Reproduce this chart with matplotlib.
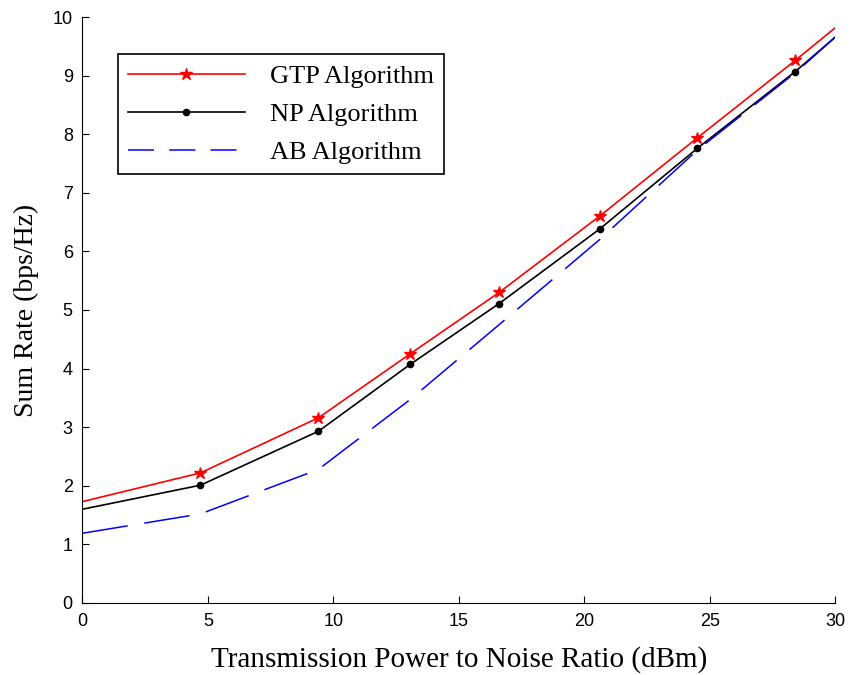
import matplotlib
matplotlib.use("Agg")
import matplotlib.pyplot as plt
from matplotlib.lines import Line2D

x = [0, 4.7, 9.4, 13.05, 16.6, 20.6, 24.5, 28.4, 30]
gtp = [1.73, 2.22, 3.16, 4.25, 5.30, 6.60, 7.94, 9.26, 9.82]
np_alg = [1.60, 2.01, 2.93, 4.07, 5.11, 6.38, 7.76, 9.07, 9.66]
ab = [1.19, 1.52, 2.28, 3.47, 4.75, 6.20, 7.73, 9.05, 9.66]
labels = ["GTP Algorithm", "NP Algorithm", "AB Algorithm"]
xticks = [0, 5, 10, 15, 20, 25, 30]
yticks = list(range(0, 11))

fig = plt.figure(figsize=(8.52, 6.75), dpi=100)
ax = fig.add_axes([0.0968, 0.1067, 0.8838, 0.8681])

mk = list(range(1, len(x) - 1))
ax.plot(x, gtp, color="red", lw=1.2, marker="*", ms=9, markevery=mk)
ax.plot(x, np_alg, color="black", lw=1.2, marker=".", ms=9, markevery=mk)
ax.plot(x, ab, color="blue", lw=1.1, dashes=(30, 11))

ax.set_xlim(0, 30)
ax.set_ylim(0, 10)
ax.set_xticks(xticks)
ax.set_yticks(yticks)
ax.tick_params(direction="in", length=5, labelsize=13, pad=7)
for lab in ax.get_xticklabels() + ax.get_yticklabels():
    lab.set_family("Liberation Sans")
ax.spines["top"].set_visible(False)
ax.spines["right"].set_visible(False)

ax.set_xlabel("Transmission Power to Noise Ratio (dBm)", family="Liberation Serif", fontsize=21, labelpad=12)
ax.set_ylabel("Sum Rate (bps/Hz)", family="Liberation Serif", fontsize=20, labelpad=10)

handles = [
    Line2D([], [], color="red", lw=1.2, marker="*", ms=9),
    Line2D([], [], color="black", lw=1.2, marker=".", ms=9),
    Line2D([], [], color="blue", lw=1.1, dashes=(17, 10)),
]
leg = ax.legend(handles, labels, loc="upper left", bbox_to_anchor=(0.047, 0.937),
                prop={"family": "Liberation Serif", "size": 19},
                handlelength=4.4, numpoints=1,
                fancybox=False, framealpha=1, edgecolor="black",
                borderpad=0.4, borderaxespad=0, labelspacing=0.55, handletextpad=0.95)
leg.get_frame().set_linewidth(1.2)

fig.savefig("out.png", dpi=100)
